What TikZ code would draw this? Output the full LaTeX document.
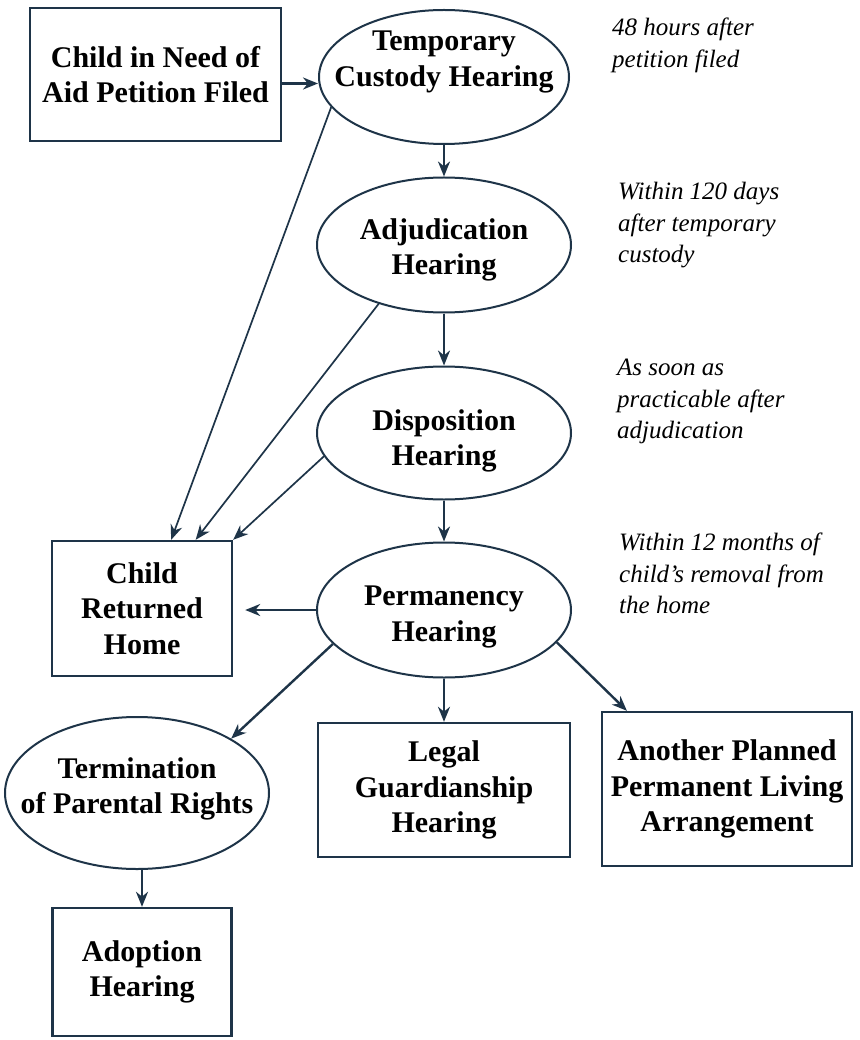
\documentclass[tikz,border=0pt]{standalone}
\usepackage{fontspec}
\setmainfont{Liberation Serif}
\usetikzlibrary{shapes.geometric,arrows.meta}
\definecolor{inkline}{HTML}{1E3448}

\begin{document}
\begin{tikzpicture}[x=1pt,y=-1pt,
  hearing/.style={ellipse,draw=inkline,line width=2pt,inner sep=0pt},
  htext/.style={align=center,inner sep=0pt,font=\bfseries\fontsize{30}{35.5}\selectfont},
  outcome/.style={rectangle,draw=inkline,line width=2.4pt,inner sep=0pt,align=center,
    font=\bfseries\fontsize{30}{35.5}\selectfont},
  flow/.style={draw=inkline,line width=2.4pt,-{Stealth[length=15pt,width=12pt]}},
  thin flow/.style={flow,line width=1.7pt},
  note/.style={anchor=north west,inner sep=0pt,align=left,
    font=\itshape\fontsize{25}{31.5}\selectfont}]
\useasboundingbox[fill=white] (0,0) rectangle (859,1040);

% main line of hearings
\node[outcome,minimum width=251pt,minimum height=133pt] (petition) at (155.5,74.5) {Child in Need of\\Aid Petition Filed};
\node[hearing,minimum width=250pt,minimum height=134pt,
  label={[htext,yshift=15pt]center:Temporary\\Custody Hearing}] (temp) at (444,77) {};
\node[hearing,minimum width=254pt,minimum height=135pt,
  label={[htext,yshift=-5pt]center:Adjudication\\Hearing}] (adj) at (444,245) {};
\node[hearing,minimum width=254pt,minimum height=133pt,
  label={[htext,yshift=-8pt]center:Disposition\\Hearing}] (disp) at (444,433) {};
\node[hearing,minimum width=254pt,minimum height=135pt,
  label={[htext,yshift=-7pt]center:Permanency\\Hearing}] (perm) at (444,610) {};

% outcomes
\node[outcome,minimum width=180pt,minimum height=135pt] (home) at (142,608.5) {Child\\Returned\\Home};
\node[hearing,minimum width=264pt,minimum height=152pt,
  label={[htext,yshift=4pt]center:Termination\\of Parental Rights}] (term) at (137,793) {};
\node[outcome,minimum width=252pt,minimum height=134pt] (legal) at (444,790) {Legal\\Guardianship\\Hearing};
\node[outcome,minimum width=250pt,minimum height=154pt] (another) at (727,789) {Another Planned\\Permanent Living\\Arrangement};
\node[outcome,minimum width=179pt,minimum height=128pt] (adoption) at (142,972) {Adoption\\Hearing};

% time limits
\foreach \x/\y/\txt [count=\i] in {612/18/{48 hours after\\petition filed},
    618/182/{Within 120 days\\after temporary\\custody},
    617/359/{As soon as\\practicable after\\adjudication},
    619/533/{Within 12 months of\\child's removal from\\the home}}
  \node[note] (note\i) at (\x,\y) {\txt};

\draw[flow] ([yshift=-9pt]petition.east) -- ([yshift=-9pt]petition.east -| temp.west);
\draw[flow] (temp) -- (adj);
\draw[flow] (adj) -- (disp);
\draw[flow] (disp) -- (perm);
\draw[thin flow] (temp.195) -- (home.67.5);
\draw[thin flow] (adj.222) -- (home.52.9);
\draw[thin flow] (disp.191) -- (home.north east);
\draw[flow,shorten >=12pt] (perm.west) -- (perm.west -| home.east);
\draw[flow] (perm.197) -- (term.30);
\draw[flow] (perm) -- (legal);
\draw[flow] (perm.-16) -- (another.142);
\draw[flow] ([xshift=5pt]term.south) -- ([xshift=5pt]term.south |- adoption.north);
\end{tikzpicture}
\end{document}
